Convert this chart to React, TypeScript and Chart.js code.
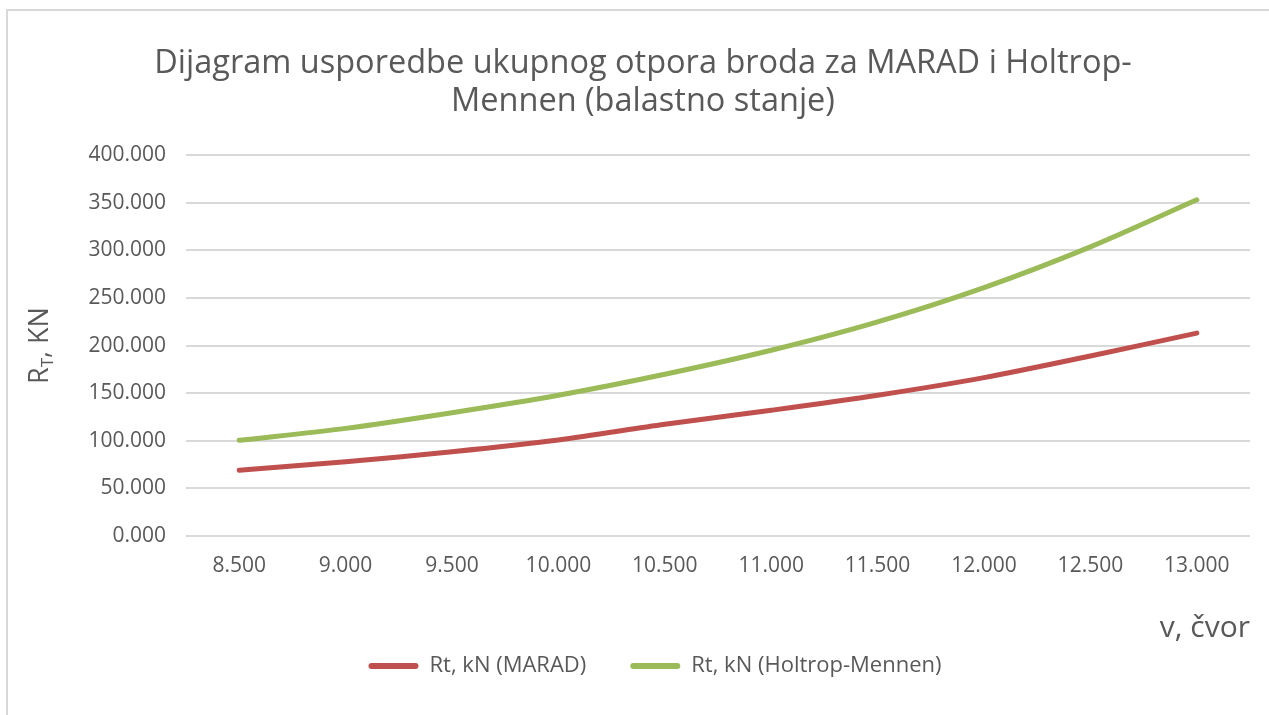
import React, { useEffect, useRef } from "react";
import { Chart, registerables } from "chart.js";

Chart.register(...registerables);

const speeds = [8.5, 9.0, 9.5, 10.0, 10.5, 11.0, 11.5, 12.0, 12.5, 13.0];
const maradValues = [69.0, 78.0, 88.5, 100.8, 117.3, 132.0, 147.8, 166.3, 189.0, 213.0];
const holtropValues = [100.5, 113.0, 129.5, 147.8, 169.8, 195.0, 224.8, 260.8, 303.6, 353.0];
const titleLines = ["Dijagram usporedbe ukupnog otpora broda za MARAD i Holtrop-", "Mennen (balastno stanje)"];
const seriesNames = ["Rt, kN (MARAD)", "Rt, kN (Holtrop-Mennen)"];
const xAxisTitle = "v, čvor";

const FONT = "'Open Sans', 'DejaVu Sans', sans-serif";
const TEXT = "#595959";
const GRID = "#d9d9d9";

const yTitlePlugin = {
  id: "yTitleSub",
  afterLayout(chart: any) {
    const l = chart.legend;
    if (l) {
      l.left += 30;
      l.right += 30;
    }
    const t = chart.titleBlock;
    if (t) {
      t.left += 18;
      t.right += 18;
    }
  },
  afterDraw(chart: any) {
    const ctx = chart.ctx;
    const area = chart.chartArea;
    const cx = 40;
    const cy = (area.top + area.bottom) / 2;
    ctx.save();
    ctx.translate(cx, cy);
    ctx.rotate(-Math.PI / 2);
    ctx.fillStyle = TEXT;
    ctx.textBaseline = "middle";
    ctx.textAlign = "left";
    const big = `27px ${FONT}`;
    const small = `17px ${FONT}`;
    ctx.font = big;
    const wR = ctx.measureText("R").width;
    const wRest = ctx.measureText(", KN").width;
    ctx.font = small;
    const wT = ctx.measureText("T").width;
    const total = wR + wT + wRest;
    let x = -total / 2;
    ctx.font = big;
    ctx.fillText("R", x, 0);
    x += wR;
    ctx.font = small;
    ctx.fillText("T", x, 8);
    x += wT;
    ctx.font = big;
    ctx.fillText(", KN", x, 0);
    ctx.restore();
  },
};

export default function App() {
  const ref = useRef<HTMLCanvasElement>(null);
  useEffect(() => {
    if (!ref.current) return;
    const chart = new Chart(ref.current, {
      type: "line",
      data: {
        labels: speeds.map((s) => s.toFixed(3)),
        datasets: [
          {
            label: seriesNames[0],
            data: maradValues,
            borderColor: "#C0504D",
            backgroundColor: "#C0504D",
            borderWidth: 5,
            pointRadius: 0,
            tension: 0.3,
            borderCapStyle: "round",
          },
          {
            label: seriesNames[1],
            data: holtropValues,
            borderColor: "#9BBB59",
            backgroundColor: "#9BBB59",
            borderWidth: 5,
            pointRadius: 0,
            tension: 0.3,
            borderCapStyle: "round",
          },
        ],
      },
      options: {
        responsive: false,
        animation: false,
        layout: { padding: { left: 0, right: 19, top: 0, bottom: 28 } },
        plugins: {
          title: {
            display: true,
            text: titleLines,
            color: TEXT,
            font: { family: FONT, size: 32.5, weight: "normal", lineHeight: 1.17 },
            padding: { top: 45, bottom: 34 },
          },
          legend: {
            position: "bottom",
            labels: {
              color: TEXT,
              font: { family: FONT, size: 22 },
              boxWidth: 50,
              boxHeight: 6,
              padding: 44,
              useBorderRadius: true,
              borderRadius: 3,
              generateLabels(c: any) {
                return c.data.datasets.map((d: any, i: number) => ({
                  text: d.label,
                  fillStyle: d.borderColor,
                  strokeStyle: d.borderColor,
                  lineWidth: 0,
                  fontColor: TEXT,
                  hidden: false,
                  datasetIndex: i,
                  borderRadius: 3,
                }));
              },
            },
          },
          tooltip: { enabled: false },
        },
        scales: {
          x: {
            offset: true,
            grid: { display: false },
            border: { display: false },
            ticks: { color: TEXT, font: { family: FONT, size: 21 }, padding: 9, maxRotation: 0 },
            title: {
              display: true,
              text: xAxisTitle,
              align: "end",
              color: TEXT,
              font: { family: FONT, size: 30, lineHeight: 1.2 },
              padding: { top: 0, bottom: -35 },
            },
            afterFit(scale: any) {
              scale.height = 75;
            },
          },
          y: {
            min: 0,
            max: 400,
            grid: { color: GRID, lineWidth: 2, drawTicks: false },
            border: { display: false },
            ticks: {
              stepSize: 50,
              color: TEXT,
              font: { family: FONT, size: 21 },
              padding: 20,
              callback: (v: any) => Number(v).toFixed(3),
            },
            afterFit(scale: any) {
              scale.width = 186;
            },
          },
        },
      },
      plugins: [yTitlePlugin],
    });
    return () => chart.destroy();
  }, []);

  return (
    <div style={{ position: "absolute", left: 0, top: 0, width: 1269, height: 715, background: "#fff" }}>
      <div
        style={{
          position: "absolute",
          left: 6,
          top: 9,
          width: 1300,
          height: 750,
          borderTop: `2px solid ${GRID}`,
          borderLeft: `2px solid ${GRID}`,
        }}
      />
      <canvas ref={ref} width={1269} height={715} style={{ position: "absolute", left: 0, top: 0 }} />
    </div>
  );
}
